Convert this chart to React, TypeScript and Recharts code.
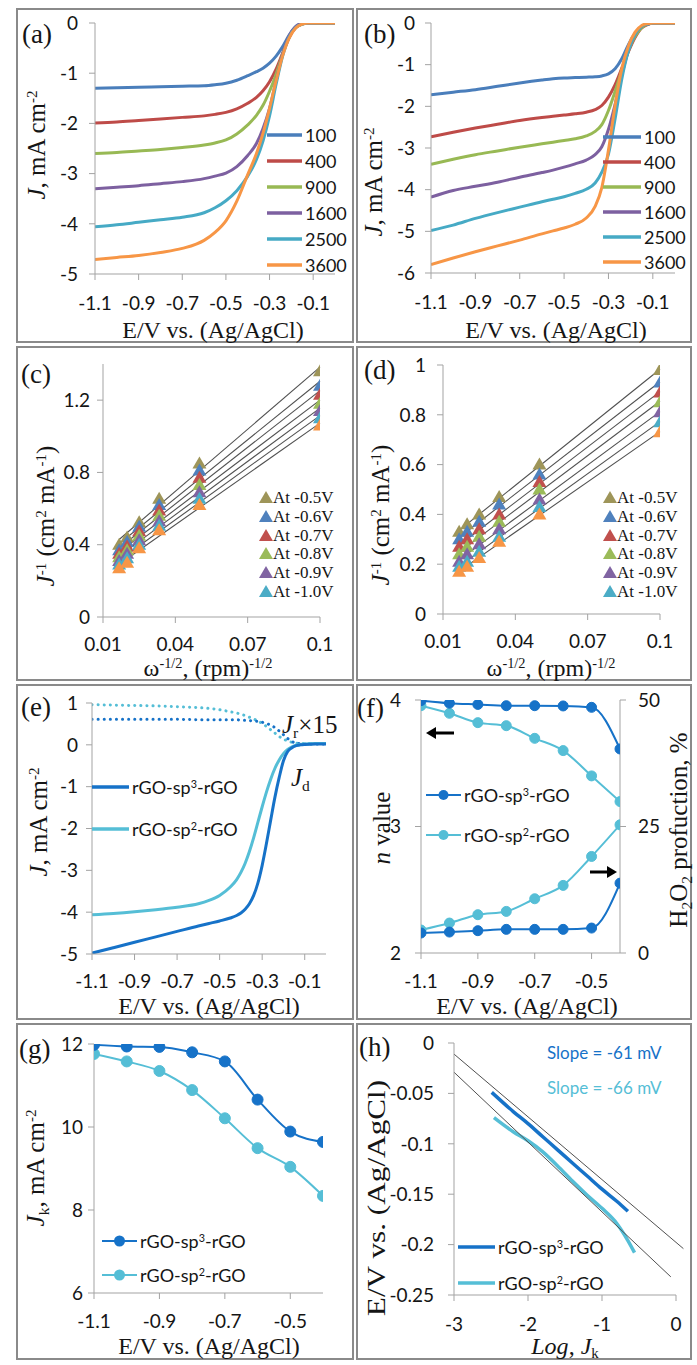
import React from "react";
import { ComposedChart, Line, Scatter, XAxis, YAxis, ReferenceLine } from "recharts";

const SANS = "Lato, 'Open Sans', sans-serif";
const SERIF = "'Liberation Serif', 'DejaVu Serif', serif";
const AXIS = "#a3a3a3";
const INK = "#151515";
const DARK = "#1672C8";
const LIGHT = "#55BED6";
const TREND = "#505050";

// ---- (a) / (b): LSV curves at six rotation rates ----
const rpmLabels = ["100", "400", "900", "1600", "2500", "3600"];
const rpmColors = ["#4A7EBB", "#BE4B48", "#98B954", "#7D60A0", "#46AAC5", "#F79646"];
const lsvV = [-1.1, -1.0, -0.9, -0.8, -0.7, -0.6, -0.55, -0.5, -0.45, -0.4, -0.36, -0.33, -0.3, -0.27, -0.24, -0.21, -0.18, -0.15, -0.12, -0.1, -0.05, 0];

const a100 = [-1.30, -1.29, -1.28, -1.27, -1.26, -1.25, -1.23, -1.20, -1.14, -1.05, -0.97, -0.90, -0.80, -0.66, -0.47, -0.24, -0.07, -0.01, 0, 0, 0, 0];
const a400 = [-1.99, -1.97, -1.94, -1.91, -1.88, -1.85, -1.82, -1.78, -1.71, -1.60, -1.48, -1.35, -1.17, -0.92, -0.60, -0.29, -0.09, -0.02, 0, 0, 0, 0];
const a900 = [-2.60, -2.58, -2.55, -2.52, -2.48, -2.43, -2.39, -2.33, -2.21, -2.03, -1.84, -1.64, -1.36, -1.02, -0.62, -0.28, -0.09, -0.02, 0, 0, 0, 0];
const a1600 = [-3.30, -3.27, -3.24, -3.20, -3.16, -3.10, -3.05, -2.99, -2.86, -2.64, -2.40, -2.10, -1.70, -1.15, -0.62, -0.25, -0.07, -0.01, 0, 0, 0, 0];
const a2500 = [-4.06, -4.02, -3.97, -3.92, -3.87, -3.78, -3.68, -3.54, -3.34, -3.05, -2.72, -2.35, -1.85, -1.22, -0.66, -0.28, -0.09, -0.02, 0, 0, 0, 0];
const a3600 = [-4.71, -4.67, -4.63, -4.57, -4.49, -4.33, -4.17, -3.94, -3.55, -3.02, -2.60, -2.20, -1.70, -1.15, -0.65, -0.30, -0.10, -0.02, 0, 0, 0, 0];

const b100 = [-1.72, -1.66, -1.60, -1.52, -1.44, -1.37, -1.34, -1.32, -1.31, -1.30, -1.29, -1.27, -1.22, -1.10, -0.86, -0.52, -0.25, -0.08, -0.02, 0, 0, 0];
const b400 = [-2.73, -2.62, -2.52, -2.43, -2.34, -2.27, -2.24, -2.21, -2.18, -2.14, -2.08, -1.98, -1.78, -1.48, -1.09, -0.69, -0.35, -0.12, -0.03, 0, 0, 0];
const b900 = [-3.39, -3.27, -3.16, -3.07, -2.98, -2.90, -2.86, -2.82, -2.78, -2.71, -2.60, -2.44, -2.10, -1.64, -1.14, -0.67, -0.32, -0.11, -0.02, 0, 0, 0];
const b1600 = [-4.18, -4.02, -3.92, -3.82, -3.70, -3.59, -3.53, -3.46, -3.38, -3.29, -3.16, -2.97, -2.55, -1.95, -1.25, -0.66, -0.27, -0.08, -0.02, 0, 0, 0];
const b2500 = [-4.98, -4.85, -4.69, -4.55, -4.42, -4.29, -4.23, -4.17, -4.09, -3.99, -3.84, -3.58, -3.15, -2.30, -1.35, -0.67, -0.27, -0.08, -0.02, 0, 0, 0];
const b3600 = [-5.80, -5.64, -5.49, -5.35, -5.21, -5.06, -4.99, -4.92, -4.83, -4.68, -4.40, -3.95, -3.05, -1.98, -1.10, -0.55, -0.22, -0.06, -0.01, 0, 0, 0];

const aSeries = [a100, a400, a900, a1600, a2500, a3600];
const bSeries = [b100, b400, b900, b1600, b2500, b3600];

// ---- (c) / (d): Koutecky-Levich points ----
const klX = [0.1, 0.05, 0.0333, 0.025, 0.02, 0.0167];
const klLabels = ["At -0.5V", "At -0.6V", "At -0.7V", "At -0.8V", "At -0.9V", "At -1.0V"];
const klColors = ["#9E9559", "#4F81BD", "#C0504D", "#9BBB59", "#8064A2", "#4BACC6", "#F79646"];
const c05 = [1.36, 0.85, 0.655, 0.525, 0.44, 0.40];
const c06 = [1.28, 0.81, 0.62, 0.50, 0.415, 0.37];
const c07 = [1.23, 0.77, 0.59, 0.475, 0.39, 0.35];
const c08 = [1.18, 0.73, 0.56, 0.45, 0.37, 0.33];
const c09 = [1.14, 0.69, 0.53, 0.425, 0.35, 0.31];
const c10 = [1.10, 0.655, 0.505, 0.40, 0.325, 0.29];
const c11 = [1.06, 0.62, 0.48, 0.38, 0.30, 0.27];
const d05 = [0.98, 0.60, 0.47, 0.40, 0.36, 0.33];
const d06 = [0.93, 0.56, 0.44, 0.37, 0.33, 0.30];
const d07 = [0.89, 0.53, 0.40, 0.34, 0.30, 0.27];
const d08 = [0.85, 0.50, 0.37, 0.31, 0.27, 0.24];
const d09 = [0.81, 0.46, 0.34, 0.28, 0.24, 0.21];
const d10 = [0.77, 0.43, 0.31, 0.25, 0.21, 0.19];
const d11 = [0.73, 0.40, 0.29, 0.225, 0.19, 0.17];
const cSeries = [c05, c06, c07, c08, c09, c10, c11];
const dSeries = [d05, d06, d07, d08, d09, d10, d11];

// ---- (e): disk (solid) and ring x15 (dotted) currents ----
const eV = [-1.1, -1.0, -0.9, -0.8, -0.7, -0.6, -0.55, -0.5, -0.45, -0.42, -0.4, -0.38, -0.36, -0.34, -0.32, -0.3, -0.28, -0.26, -0.24, -0.22, -0.2, -0.18, -0.16, -0.14, -0.12, -0.1, -0.05, 0];
const jdSp3 = [-4.98, -4.85, -4.72, -4.59, -4.46, -4.33, -4.27, -4.21, -4.14, -4.08, -4.02, -3.93, -3.80, -3.60, -3.30, -2.88, -2.36, -1.80, -1.25, -0.78, -0.38, -0.16, -0.07, -0.02, 0.0, 0.01, 0.02, 0.02];
const jdSp2 = [-4.06, -4.03, -3.99, -3.94, -3.88, -3.80, -3.72, -3.60, -3.40, -3.22, -3.05, -2.83, -2.55, -2.22, -1.85, -1.48, -1.13, -0.82, -0.56, -0.36, -0.21, -0.11, -0.05, -0.01, 0.01, 0.02, 0.03, 0.03];
const jrSp3 = [0.61, 0.61, 0.61, 0.61, 0.61, 0.60, 0.60, 0.60, 0.60, 0.60, 0.59, 0.59, 0.58, 0.57, 0.56, 0.54, 0.51, 0.47, 0.41, 0.33, 0.24, 0.15, 0.08, 0.04, 0.03, 0.02, 0.02, 0.02];
const jrSp2 = [0.96, 0.95, 0.94, 0.93, 0.91, 0.89, 0.87, 0.84, 0.79, 0.76, 0.73, 0.70, 0.66, 0.62, 0.57, 0.51, 0.44, 0.36, 0.28, 0.20, 0.14, 0.09, 0.06, 0.04, 0.03, 0.03, 0.03, 0.03];

// ---- (f), (g): electron number, H2O2 yield, kinetic current ----
const fgV = [-1.1, -1.0, -0.9, -0.8, -0.7, -0.6, -0.5, -0.4];
const nSp3 = [3.995, 3.975, 3.965, 3.955, 3.955, 3.953, 3.942, 3.613];
const nSp2 = [3.955, 3.895, 3.821, 3.797, 3.697, 3.600, 3.400, 3.197];
const hSp3 = [3.95, 4.14, 4.41, 4.67, 4.67, 4.67, 4.93, 13.8];
const hSp2 = [4.54, 5.92, 7.57, 8.22, 10.72, 13.36, 19.08, 25.33];
const jkSp3 = [11.98, 11.94, 11.93, 11.80, 11.58, 10.66, 9.89, 9.64];
const jkSp2 = [11.76, 11.58, 11.35, 10.89, 10.21, 9.49, 9.04, 8.34];

// ---- (h): Tafel plots and their linear fits ----
const tafLogSp3 = [-2.49, -2.2, -2.0, -1.8, -1.6, -1.4, -1.2, -1.0, -0.8, -0.65];
const tafESp3 = [-0.049, -0.068, -0.080, -0.093, -0.106, -0.119, -0.132, -0.145, -0.157, -0.167];
const tafLogSp2 = [-2.46, -2.2, -2.0, -1.8, -1.6, -1.4, -1.2, -1.0, -0.8, -0.65, -0.56];
const tafESp2 = [-0.074, -0.088, -0.097, -0.108, -0.122, -0.137, -0.151, -0.164, -0.179, -0.196, -0.208];
const fitSp3Log = [-3, 0.1];
const fitSp3E = [-0.011, -0.204];
const fitSp2Log = [-3, -0.07];
const fitSp2E = [-0.029, -0.232];

// ---------------------------------------------------------------
const pts = (xs: number[], ys: number[]) => xs.map((x, i) => ({ x, y: ys[i] }));
const table = (series: number[][]) =>
  lsvV.map((x, i) => {
    const row: any = { x };
    series.forEach((s, k) => (row["s" + k] = s[i]));
    return row;
  });

// least-squares line over the data range (Excel-style linear trendline)
function linFit(xs: number[], ys: number[]) {
  const n = xs.length;
  const mx = xs.reduce((a, b) => a + b, 0) / n;
  const my = ys.reduce((a, b) => a + b, 0) / n;
  let sxy = 0, sxx = 0;
  xs.forEach((x, i) => { sxy += (x - mx) * (ys[i] - my); sxx += (x - mx) ** 2; });
  const k = sxy / sxx;
  const lo = Math.min(...xs), hi = Math.max(...xs);
  return [{ x: lo, y: my + k * (lo - mx) }, { x: hi, y: my + k * (hi - mx) }];
}

const tickStyle = { fontFamily: SANS, fontSize: 19, fill: INK };
const fmt = (v: number) => String(Math.round(v * 1000) / 1000);

const xAx = (domain: number[], ticks: number[], height: number, tickMargin: number) => ({
  type: "number" as const, dataKey: "x", domain, ticks, height, tickMargin, interval: 0 as const,
  allowDataOverflow: true, tick: tickStyle, tickFormatter: fmt, tickSize: 6,
  axisLine: { stroke: AXIS }, tickLine: { stroke: AXIS },
});
const yAx = (domain: number[], ticks: number[], width: number, tickMargin: number) => ({
  type: "number" as const, domain, ticks, width, tickMargin, interval: 0 as const,
  allowDataOverflow: true, tick: tickStyle, tickFormatter: fmt, tickSize: 6,
  axisLine: { stroke: AXIS }, tickLine: { stroke: AXIS },
});

type Plot = { x0: number; y0: number; x1: number; y1: number };

function Chart({ plot, L, R, T = 12, B = 40, rightAxis = false, data, children }: any) {
  const p = plot as Plot;
  return (
    <div style={{ position: "absolute", left: p.x0 - L, top: p.y0 - T }}>
      <ComposedChart
        width={p.x1 - p.x0 + L + R}
        height={p.y1 - p.y0 + T + B}
        data={data}
        margin={{ top: T, right: rightAxis ? 0 : R, bottom: 0, left: 0 }}
      >
        {children}
      </ComposedChart>
    </div>
  );
}

const tri = (color: string) => (p: any) => {
  const { cx, cy } = p;
  if (cx == null || cy == null) return <g />;
  return <path d={`M${cx},${cy - 7}L${cx + 7},${cy + 5}L${cx - 7},${cy + 5}Z`} fill={color} />;
};

// ---- text helpers ----
const Sup = ({ children }: any) => (
  <span style={{ fontSize: "0.6em", position: "relative", top: "-0.55em" }}>{children}</span>
);
const Sub = ({ children }: any) => (
  <span style={{ fontSize: "0.62em", position: "relative", top: "0.3em" }}>{children}</span>
);

function HText({ cx, cy, size = 24, font = SERIF, color = INK, children }: any) {
  return (
    <div style={{ position: "absolute", left: cx, top: cy, transform: "translate(-50%, -50%)", whiteSpace: "nowrap", fontFamily: font, fontSize: size, lineHeight: 0.9, color }}>
      {children}
    </div>
  );
}
function VText({ cx, cy, size = 25, stretch = 1, children }: any) {
  return (
    <div style={{ position: "absolute", left: cx, top: cy, transform: `translate(-50%, -50%) rotate(-90deg) scaleX(${stretch})`, whiteSpace: "nowrap", fontFamily: SERIF, fontSize: size, lineHeight: 1, color: INK }}>
      {children}
    </div>
  );
}
function LText({ x, cy, size = 18, font = SANS, color = INK, lh = 1, children }: any) {
  return (
    <div style={{ position: "absolute", left: x, top: cy, transform: "translateY(-50%)", whiteSpace: "nowrap", fontFamily: font, fontSize: size, lineHeight: lh, color }}>
      {children}
    </div>
  );
}

function LineLegend({ x, y0, gap, len, items, width = 3.5, marker = 0 }: any) {
  return (
    <>
      {items.map((it: any, i: number) => {
        const cy = y0 + i * gap;
        return (
          <React.Fragment key={i}>
            <svg style={{ position: "absolute", left: x, top: cy - 8 }} width={len} height={16}>
              <line x1={0} y1={8} x2={len} y2={8} stroke={it.color} strokeWidth={width} />
              {marker > 0 && <circle cx={len / 2} cy={8} r={marker} fill={it.color} />}
            </svg>
            <LText x={x + len + 3} cy={cy}>{it.label}</LText>
          </React.Fragment>
        );
      })}
    </>
  );
}

function TriLegend({ x, y0, colors }: any) {
  return (
    <>
      {klLabels.map((lab, i) => {
        const cy = y0 + i * 18.8;
        return (
          <React.Fragment key={lab}>
            <svg style={{ position: "absolute", left: x - 7, top: cy - 7 }} width={14} height={13}>
              <path d="M7,0L14,12L0,12Z" fill={colors[i]} />
            </svg>
            <LText x={x + 7} cy={cy} size={17} lh={0.85} font={SERIF}>{lab}</LText>
          </React.Fragment>
        );
      })}
    </>
  );
}

const sp3Label = <span>rGO-sp<Sup>3</Sup>-rGO</span>;
const sp2Label = <span>rGO-sp<Sup>2</Sup>-rGO</span>;
const jTitle = <span><i>J</i>, mA cm<Sup>-2</Sup></span>;
const evTitle = "E/V vs. (Ag/AgCl)";
const klYTitle = <span><i>J</i><Sup>-1</Sup> (cm<Sup>2</Sup> mA<Sup>-1</Sup>)</span>;
const klXTitle = <span>ω<Sup>-1/2</Sup>, (rpm)<Sup>-1/2</Sup></span>;

const FRAMES = [
  [16, 8, 338, 335], [356, 8, 336, 335],
  [16, 346, 338, 335], [356, 346, 336, 335],
  [16, 684, 338, 336], [356, 684, 336, 336],
  [16, 1023, 338, 337], [356, 1023, 336, 337],
];
const PANEL_LABELS: [string, number, number][] = [
  ["(a)", 22, 34], ["(b)", 364, 34], ["(c)", 21, 374], ["(d)", 364, 370],
  ["(e)", 21, 707], ["(f)", 357, 708], ["(g)", 19, 1049], ["(h)", 359, 1047],
];

const PA: Plot = { x0: 95, y0: 23, x1: 335, y1: 274 };
const PB: Plot = { x0: 431, y0: 23, x1: 675, y1: 273 };
const PC: Plot = { x0: 103, y0: 364, x1: 320, y1: 617 };
const PD: Plot = { x0: 443, y0: 365, x1: 660, y1: 614 };
const PE: Plot = { x0: 92, y0: 703, x1: 326, y1: 954 };
const PF: Plot = { x0: 421, y0: 700, x1: 620, y1: 953 };
const PG: Plot = { x0: 94, y0: 1044, x1: 323, y1: 1293 };
const PH: Plot = { x0: 454, y0: 1043, x1: 676, y1: 1295 };

const vTicks = [-1.1, -0.9, -0.7, -0.5, -0.3, -0.1];
const fgTicks = [-1.1, -0.9, -0.7, -0.5];

export default function App() {
  const tableA = table(aSeries);
  const tableB = table(bSeries);
  return (
    <div style={{ position: "absolute", left: 0, top: 0, width: 697, height: 1365, background: "#fff", overflow: "hidden" }}>
      {FRAMES.map(([l, t, w, h], i) => (
        <div key={i} style={{ position: "absolute", left: l, top: t, width: w, height: h, border: "2px solid #8a8a8a", boxSizing: "border-box" }} />
      ))}

      {/* (a) */}
      <Chart plot={PA} L={60} R={20} data={tableA}>
        <XAxis {...xAx([-1.1, 0], vTicks, 40, 17)} />
        <YAxis {...yAx([-5, 0], [-5, -4, -3, -2, -1, 0], 60, 11)} />
        {aSeries.map((_, k) => (
          <Line key={k} dataKey={"s" + k} type="monotone" stroke={rpmColors[k]} strokeWidth={3} dot={false} isAnimationActive={false} />
        ))}
      </Chart>

      {/* (b) */}
      <Chart plot={PB} L={60} R={16} data={tableB}>
        <XAxis {...xAx([-1.1, 0], vTicks, 40, 17)} />
        <YAxis {...yAx([-6, 0], [-6, -5, -4, -3, -2, -1, 0], 60, 10)} />
        {bSeries.map((_, k) => (
          <Line key={k} dataKey={"s" + k} type="monotone" stroke={rpmColors[k]} strokeWidth={3} dot={false} isAnimationActive={false} />
        ))}
      </Chart>

      {/* (c) */}
      <Chart plot={PC} L={60} R={20}>
        <XAxis {...xAx([0.01, 0.1], [0.01, 0.04, 0.07, 0.1], 40, 15)} />
        <YAxis dataKey="y" {...yAx([0, 1.4], [0, 0.4, 0.8, 1.2], 60, 7)} />
        {cSeries.map((s, k) => (
          <Scatter key={k} data={pts(klX, s)} dataKey="y" shape={tri(klColors[k])} isAnimationActive={false} />
        ))}
        {cSeries.map((s, k) => (
          <ReferenceLine key={"f" + k} segment={linFit(klX, s)} stroke={TREND} strokeWidth={1.1} ifOverflow="visible" />
        ))}
      </Chart>

      {/* (d) */}
      <Chart plot={PD} L={60} R={20}>
        <XAxis {...xAx([0.01, 0.1], [0.01, 0.04, 0.07, 0.1], 40, 15)} />
        <YAxis dataKey="y" {...yAx([0, 1], [0, 0.2, 0.4, 0.6, 0.8, 1], 60, 11)} />
        {dSeries.map((s, k) => (
          <Scatter key={k} data={pts(klX, s)} dataKey="y" shape={tri(klColors[k])} isAnimationActive={false} />
        ))}
        {dSeries.map((s, k) => (
          <ReferenceLine key={"f" + k} segment={linFit(klX, s)} stroke={TREND} strokeWidth={1.1} ifOverflow="visible" />
        ))}
      </Chart>

      {/* (e) */}
      <Chart plot={PE} L={60} R={20}>
        <XAxis {...xAx([-1.1, 0], vTicks, 40, 15)} />
        <YAxis dataKey="y" {...yAx([-5, 1], [-5, -4, -3, -2, -1, 0, 1], 60, 8)} />
        <Line data={pts(eV, jrSp2)} dataKey="y" type="monotone" stroke={LIGHT} strokeWidth={3} strokeDasharray="0.1 6" strokeLinecap="round" dot={false} isAnimationActive={false} />
        <Line data={pts(eV, jrSp3)} dataKey="y" type="monotone" stroke={DARK} strokeWidth={3} strokeDasharray="0.1 6" strokeLinecap="round" dot={false} isAnimationActive={false} />
        <Line data={pts(eV, jdSp2)} dataKey="y" type="monotone" stroke={LIGHT} strokeWidth={3} dot={false} isAnimationActive={false} />
        <Line data={pts(eV, jdSp3)} dataKey="y" type="monotone" stroke={DARK} strokeWidth={3} dot={false} isAnimationActive={false} />
      </Chart>

      {/* (f) */}
      <Chart plot={PF} L={45} R={45} rightAxis>
        <XAxis {...xAx([-1.1, -0.4], fgTicks, 40, 16)} />
        <YAxis yAxisId="n" dataKey="y" {...yAx([2, 4], [2, 3, 4], 45, 14)} />
        <YAxis yAxisId="h" dataKey="y" orientation="right" {...yAx([0, 50], [0, 25, 50], 45, 12)} />
        <Line yAxisId="n" data={pts(fgV, nSp2)} dataKey="y" type="monotone" stroke={LIGHT} strokeWidth={2} dot={{ r: 5, fill: LIGHT, stroke: LIGHT, strokeWidth: 1 }} isAnimationActive={false} />
        <Line yAxisId="h" data={pts(fgV, hSp2)} dataKey="y" type="monotone" stroke={LIGHT} strokeWidth={2} dot={{ r: 5, fill: LIGHT, stroke: LIGHT, strokeWidth: 1 }} isAnimationActive={false} />
        <Line yAxisId="n" data={pts(fgV, nSp3)} dataKey="y" type="monotone" stroke={DARK} strokeWidth={2} dot={{ r: 5, fill: DARK, stroke: DARK, strokeWidth: 1 }} isAnimationActive={false} />
        <Line yAxisId="h" data={pts(fgV, hSp3)} dataKey="y" type="monotone" stroke={DARK} strokeWidth={2} dot={{ r: 5, fill: DARK, stroke: DARK, strokeWidth: 1 }} isAnimationActive={false} />
      </Chart>

      {/* (g) */}
      <Chart plot={PG} L={60} R={20}>
        <XAxis {...xAx([-1.1, -0.4], fgTicks, 40, 16)} />
        <YAxis dataKey="y" {...yAx([6, 12], [6, 8, 10, 12], 60, 5)} />
        <Line data={pts(fgV, jkSp2)} dataKey="y" type="monotone" stroke={LIGHT} strokeWidth={2} dot={{ r: 5.5, fill: LIGHT, stroke: LIGHT, strokeWidth: 1 }} isAnimationActive={false} />
        <Line data={pts(fgV, jkSp3)} dataKey="y" type="monotone" stroke={DARK} strokeWidth={2} dot={{ r: 5.5, fill: DARK, stroke: DARK, strokeWidth: 1 }} isAnimationActive={false} />
      </Chart>

      {/* (h) */}
      <Chart plot={PH} L={70} R={12}>
        <XAxis {...xAx([-3, 0], [-3, -2, -1, 0], 40, 17)} />
        <YAxis dataKey="y" {...yAx([-0.25, 0], [-0.25, -0.2, -0.15, -0.1, -0.05, 0], 70, 14)} />
        <Line data={pts(tafLogSp3, tafESp3)} dataKey="y" type="monotone" stroke={DARK} strokeWidth={3.5} dot={false} isAnimationActive={false} />
        <Line data={pts(tafLogSp2, tafESp2)} dataKey="y" type="monotone" stroke={LIGHT} strokeWidth={3.5} dot={false} isAnimationActive={false} />
        <ReferenceLine segment={pts(fitSp3Log, fitSp3E)} stroke={TREND} strokeWidth={1} ifOverflow="visible" />
        <ReferenceLine segment={pts(fitSp2Log, fitSp2E)} stroke={TREND} strokeWidth={1} ifOverflow="visible" />
      </Chart>

      {/* panel letters */}
      {PANEL_LABELS.map(([t, x, cy]) => (
        <LText key={t} x={x} cy={cy} size={27} font={SERIF}>{t}</LText>
      ))}

      {/* axis titles */}
      <HText cx={213} cy={331}>{evTitle}</HText>
      <HText cx={556} cy={331}>{evTitle}</HText>
      <HText cx={208} cy={669}>{klXTitle}</HText>
      <HText cx={551} cy={669}>{klXTitle}</HText>
      <HText cx={209} cy={1007}>{evTitle}</HText>
      <HText cx={527} cy={1007}>{evTitle}</HText>
      <HText cx={209} cy={1347}>{evTitle}</HText>
      <HText cx={565} cy={1347}><i>Log</i>, <i>J</i><Sub>k</Sub></HText>

      <VText cx={36} cy={145}>{jTitle}</VText>
      <VText cx={373} cy={182}>{jTitle}</VText>
      <VText cx={45} cy={516}>{klYTitle}</VText>
      <VText cx={380} cy={515}>{klYTitle}</VText>
      <VText cx={38} cy={822}>{jTitle}</VText>
      <VText cx={381} cy={828}><i>n</i> value</VText>
      <VText cx={678} cy={830}>H<Sub>2</Sub>O<Sub>2</Sub> profuction, %</VText>
      <VText cx={35} cy={1168}><i>J</i><Sub>k</Sub>, mA cm<Sup>-2</Sup></VText>
      <VText cx={376} cy={1198} stretch={1.25}>{evTitle}</VText>

      {/* legends */}
      <LineLegend x={267} y0={135} gap={26} len={35} items={rpmLabels.map((l, i) => ({ label: l, color: rpmColors[i] }))} />
      <LineLegend x={603} y0={137} gap={25} len={38} items={rpmLabels.map((l, i) => ({ label: l, color: rpmColors[i] }))} />
      <TriLegend x={266} y0={498} colors={klColors} />
      <TriLegend x={610} y0={498} colors={klColors} />
      <LineLegend x={92} y0={787} gap={42} len={37} items={[{ label: sp3Label, color: DARK }, { label: sp2Label, color: LIGHT }]} />
      <LineLegend x={426} y0={795} gap={40} len={35} width={2} marker={5} items={[{ label: sp3Label, color: DARK }, { label: sp2Label, color: LIGHT }]} />
      <LineLegend x={102} y0={1241} gap={34} len={35} width={2} marker={5.5} items={[{ label: sp3Label, color: DARK }, { label: sp2Label, color: LIGHT }]} />
      <LineLegend x={458} y0={1247} gap={36} len={37} items={[{ label: sp3Label, color: DARK }, { label: sp2Label, color: LIGHT }]} />

      {/* annotations */}
      <LText x={282} cy={724} size={25} font={SERIF}><i>J</i><Sub>r</Sub>×15</LText>
      <LText x={291} cy={777} size={25} font={SERIF}><i>J</i><Sub>d</Sub></LText>
      <LText x={547} cy={1052} size={17} color={DARK}>Slope = -61 mV</LText>
      <LText x={547} cy={1087} size={17} color={LIGHT}>Slope = -66 mV</LText>
      <svg style={{ position: "absolute", left: 426, top: 726 }} width={30} height={14}>
        <line x1={8} y1={7} x2={28} y2={7} stroke="#000" strokeWidth={3} />
        <path d="M0,7L10,1L10,13Z" fill="#000" />
      </svg>
      <svg style={{ position: "absolute", left: 588, top: 865 }} width={30} height={14}>
        <line x1={2} y1={7} x2={21} y2={7} stroke="#000" strokeWidth={3} />
        <path d="M29,7L19,1L19,13Z" fill="#000" />
      </svg>
    </div>
  );
}
